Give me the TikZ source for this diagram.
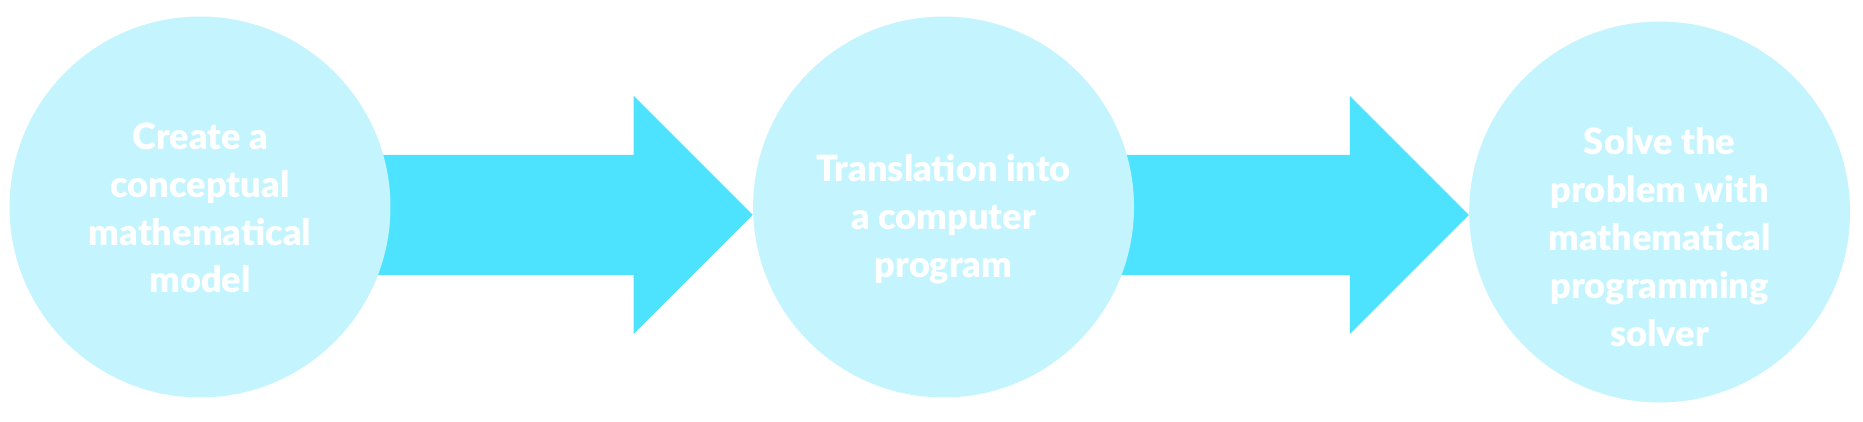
\documentclass[tikz,border=0pt]{standalone}
\usepackage{fontspec}
\setmainfont{Lato}[BoldFont={Lato Black}]
\usetikzlibrary{positioning, calc, backgrounds}
\definecolor{bandcyan}{HTML}{4DE3FF}
\definecolor{disccyan}{HTML}{C4F5FE}
\tikzset{
  disc/.style={circle, minimum size=7.62cm, inner sep=0pt, fill=disccyan},
  disctext/.style={anchor=base, align=center, text=white, inner sep=0pt,
    font=\fontsize{20.6}{27.3}\selectfont\bfseries},
  band/.style={fill=bandcyan},
}
% block arrow from the centre of #1 to the west side of #2, tip moved down by #3
\newcommand{\blockarrow}[3]{%
  \path (#2.west) ++(0,#3) coordinate (tip);
  \fill[band] (tip) -- ++(-119,-119) -- ++(0,59) -| (#1.center)
    |- ($(tip)+(-119,60)$) -- ++(0,59) -- cycle;
}

\begin{document}
\begin{tikzpicture}[x=0.02cm, y=-0.02cm]
  \useasboundingbox (0,0) rectangle (1863,422);

  \node[disc] (c1) at (200,207) {};
  \node[disc, right=7.24cm of c1] (c2) {};
  \node[disc, right=6.69cm of c2, yshift=-0.1cm] (c3) {};

  % arrows go under the discs
  \begin{scope}[on background layer]
    \blockarrow{c1}{c2}{8}
    \blockarrow{c2}{c3}{3}
  \end{scope}

  \node[disctext] (t1) at ($(c1)+(0,86)$) {Create a\\conceptual\\mathematical\\model};
  \node[disctext] (t2) at ($(c2)+(0,70)$) {Translation into\\a computer\\program};
  \node[disctext] (t3) at ($(c3)+(0,134)$) {Solve the\\problem with\\mathematical\\programming\\solver};
\end{tikzpicture}
\end{document}
